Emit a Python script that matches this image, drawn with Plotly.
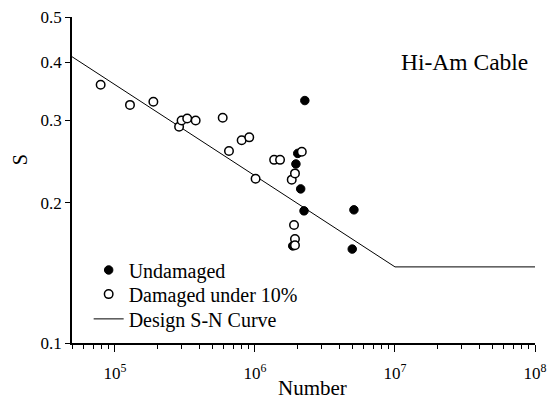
import plotly.graph_objects as go

# Undamaged (filled circles)
und_N = [2.02e6, 1.96e6, 2.12e6, 2.24e6, 2.27e6, 5.09e6, 4.95e6, 1.86e6]
und_S = [0.255, 0.242, 0.214, 0.192, 0.331, 0.193, 0.159, 0.1615]

# Damaged under 10% (open circles)
dam_N = [7.9e4, 1.28e5, 1.88e5, 2.87e5, 2.99e5, 3.28e5, 3.77e5, 5.88e5, 6.52e5,
         8.03e5, 9.1e5, 1.01e6, 1.37e6, 1.51e6, 1.83e6, 1.93e6, 2.16e6, 1.90e6,
         1.93e6, 1.93e6]
dam_S = [0.358, 0.324, 0.329, 0.291, 0.300, 0.303, 0.300, 0.304, 0.258,
         0.272, 0.276, 0.225, 0.247, 0.247, 0.224, 0.231, 0.257, 0.179,
         0.167, 0.162]

# Design S-N curve
curve_N = [4.93e4, 1e7, 1e8]
curve_S = [0.411, 0.1456, 0.1456]

x_ticks = [1e5, 1e6, 1e7, 1e8]
x_ticktext = ["10<sup>5</sup>", "10<sup>6</sup>", "10<sup>7</sup>", "10<sup>8</sup>"]
y_ticks = [0.1, 0.2, 0.3, 0.4, 0.5]
y_ticktext = ["0.1", "0.2", "0.3", "0.4", "0.5"]

FONT = "Liberation Serif"

fig = go.Figure()
fig.add_trace(go.Scatter(x=curve_N, y=curve_S, mode="lines", name="Design S-N Curve",
                         line=dict(color="black", width=1), legend="legend3"))
fig.add_trace(go.Scatter(x=und_N, y=und_S, mode="markers", name="Undamaged",
                         marker=dict(symbol="circle", size=8.5, color="black",
                                     line=dict(color="black", width=1)), legend="legend"))
fig.add_trace(go.Scatter(x=dam_N, y=dam_S, mode="markers", name="Damaged under 10%",
                         marker=dict(symbol="circle", size=8.5, color="white",
                                     line=dict(color="black", width=1.5)), legend="legend2"))

minor_x = []
for e in range(4, 8):
    for m in range(2, 10):
        v = m * 10 ** e
        if 4.93e4 <= v <= 1e8:
            minor_x.append(v)

leg_common = dict(x=0.036, xanchor="left", yanchor="middle",
                  bgcolor="rgba(0,0,0,0)", font=dict(family=FONT, size=20))

fig.update_layout(
    width=549, height=404,
    margin=dict(l=72, r=14, t=17, b=61),
    paper_bgcolor="white", plot_bgcolor="white",
    font=dict(family=FONT, color="black", size=16),
    showlegend=True,
    legend=dict(y=0.224, **leg_common),
    legend2=dict(y=0.150, **leg_common),
    legend3=dict(y=0.074, **leg_common),
    xaxis=dict(type="log", range=[4.693, 8], tickvals=x_ticks, ticktext=x_ticktext,
               automargin=False,
               showline=True, linecolor="black", linewidth=1.5,
               ticks="outside", ticklen=7, tickwidth=1.2, tickcolor="black",
               showgrid=False, zeroline=False,
               minor=dict(tickmode="array", tickvals=minor_x, ticks="outside",
                          ticklen=4, tickwidth=1, tickcolor="black"),
               ticklabelstandoff=7,
               tickfont=dict(size=17)),
    yaxis=dict(type="log", range=[-1, -0.30103], tickvals=y_ticks, ticktext=y_ticktext,
               automargin=False,
               showline=True, linecolor="black", linewidth=1.5,
               ticks="outside", ticklen=5, tickwidth=1.2, tickcolor="black",
               showgrid=False, zeroline=False,
               tickfont=dict(size=17)),
    annotations=[
        dict(text="Hi-Am Cable", x=0.989, y=0.862, xref="paper", yref="paper",
             xanchor="right", yanchor="middle", showarrow=False,
             font=dict(family=FONT, size=23.5)),
        dict(text="Number", x=0.52, y=-0.138, xref="paper", yref="paper",
             xanchor="center", yanchor="middle", showarrow=False,
             font=dict(family=FONT, size=21)),
        dict(text="S", x=-0.112, y=0.561, xref="paper", yref="paper",
             xanchor="center", yanchor="middle", showarrow=False, textangle=-90,
             font=dict(family=FONT, size=20)),
    ],
)

fig.write_html("out.html")
